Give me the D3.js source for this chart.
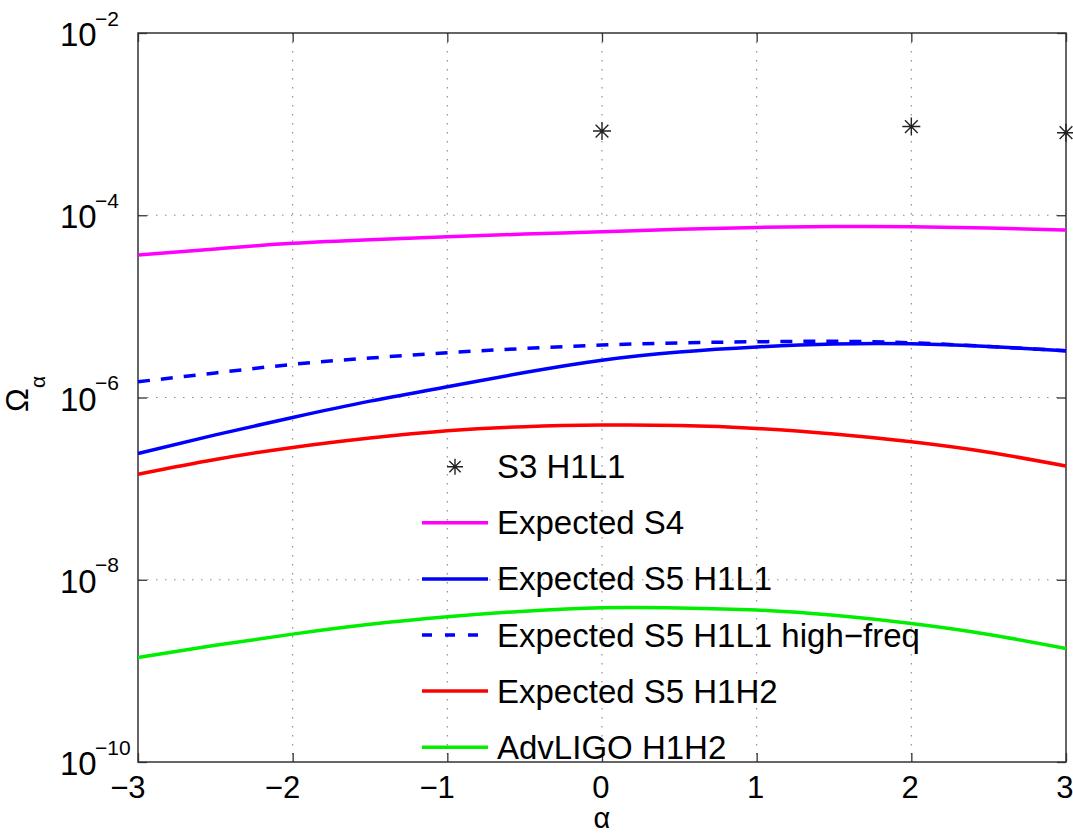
<!DOCTYPE html>
<html>
<head>
<meta charset="utf-8">
<script src="https://cdn.jsdelivr.net/npm/d3@7/dist/d3.min.js"></script>
<style>
  html, body { margin: 0; padding: 0; background: #fff; }
  svg { display: block; font-family: "Liberation Sans", Arial, Helvetica, sans-serif; }
</style>
</head>
<body>
<svg id="chart" width="1073" height="833"></svg>
<script>
// ---------------- data ----------------
const alpha = [-3, -2.5, -2, -1.5, -1, -0.5, 0, 0.5, 1, 1.5, 2, 2.5, 3];

const expectedS4 = [3.66e-5, 4.27e-5, 4.92e-5, 5.40e-5, 5.81e-5, 6.21e-5, 6.59e-5, 7.00e-5, 7.36e-5, 7.53e-5, 7.48e-5, 7.24e-5, 6.89e-5];
const expectedS5H1L1 = [2.43e-7, 3.89e-7, 6.04e-7, 9.12e-7, 1.31e-6, 1.88e-6, 2.57e-6, 3.16e-6, 3.59e-6, 3.87e-6, 3.89e-6, 3.63e-6, 3.26e-6];
const expectedS5H1L1HF = [1.49e-6, 1.86e-6, 2.31e-6, 2.71e-6, 3.10e-6, 3.45e-6, 3.76e-6, 3.98e-6, 4.09e-6, 4.14e-6, 3.98e-6, 3.63e-6, 3.26e-6];
const expectedS5H1H2 = [1.44e-7, 2.09e-7, 2.83e-7, 3.59e-7, 4.32e-7, 4.79e-7, 4.98e-7, 4.93e-7, 4.58e-7, 3.98e-7, 3.27e-7, 2.51e-7, 1.77e-7];
const advLIGOH1H2 = [1.40e-9, 1.91e-9, 2.53e-9, 3.24e-9, 3.92e-9, 4.52e-9, 4.92e-9, 4.90e-9, 4.65e-9, 4.07e-9, 3.31e-9, 2.51e-9, 1.76e-9];

const s3Alpha = [0, 2, 3];
const s3Values = [8.4e-4, 9.4e-4, 8.05e-4];

const xTicks = [-3, -2, -1, 0, 1, 2, 3];
const yTicks = [1e-10, 1e-8, 1e-6, 1e-4, 1e-2];
const yTickExponents = ["−10", "−8", "−6", "−4", "−2"];
const xGrid = [-2, -1, 0, 1, 2];
const yGrid = [1e-8, 1e-6, 1e-4];

const legendLabels = ["S3 H1L1", "Expected S4", "Expected S5 H1L1", "Expected S5 H1L1 high−freq", "Expected S5 H1H2", "AdvLIGO H1H2"];

// ---------------- layout ----------------
const L = 138, R = 1066, T = 33, B = 762;
const svg = d3.select("#chart");
const x = d3.scaleLinear().domain([-3, 3]).range([L, R]);
const y = d3.scaleLog().domain([1e-10, 1e-2]).range([B, T]);

const FONT = 31;

// grid
const grid = svg.append("g").attr("stroke", "#8a8a8a").attr("stroke-width", 1.1).attr("stroke-dasharray", "1.5,7.5");
grid.selectAll("line.gx").data(xGrid).join("line")
  .attr("x1", d => x(d)).attr("x2", d => x(d)).attr("y1", T).attr("y2", B);
grid.selectAll("line.gy").data(yGrid).join("line")
  .attr("y1", d => y(d)).attr("y2", d => y(d)).attr("x1", L).attr("x2", R);

// axes (inward ticks)
const tickLen = 9;
const axStyle = g => {
  g.select(".domain").remove();
  g.selectAll(".tick line").attr("stroke", "#333").attr("stroke-width", 1.3);
};
const xb = svg.append("g").attr("transform", `translate(0,${B})`)
  .call(d3.axisBottom(x).tickValues(xTicks).tickSizeInner(-tickLen).tickSizeOuter(0)
    .tickFormat(d => d < 0 ? "−" + Math.abs(d) : String(d)))
  .call(axStyle);
xb.selectAll(".tick text")
  .attr("font-size", FONT).attr("fill", "#000")
  .attr("font-family", "Liberation Sans, Arial, sans-serif")
  .attr("text-anchor", "end").attr("x", 7).attr("dy", null).attr("y", 36);

svg.append("g").attr("transform", `translate(0,${T})`)
  .call(d3.axisTop(x).tickValues(xTicks).tickSizeInner(-tickLen).tickSizeOuter(0).tickFormat(""))
  .call(axStyle);
const yl = svg.append("g").attr("transform", `translate(${L},0)`)
  .call(d3.axisLeft(y).tickValues(yTicks).tickSizeInner(-tickLen).tickSizeOuter(0).tickFormat(""))
  .call(axStyle);
svg.append("g").attr("transform", `translate(${R},0)`)
  .call(d3.axisRight(y).tickValues(yTicks).tickSizeInner(-tickLen).tickSizeOuter(0).tickFormat(""))
  .call(axStyle);

// y tick labels 10^n
yl.selectAll(".tick").each(function(d, i) {
  const t = d3.select(this).append("text").attr("fill", "#000").attr("text-anchor", "start");
  t.append("tspan").attr("x", -78).attr("y", 12.5).attr("font-size", 33).text("10");
  t.append("tspan").attr("x", -43).attr("y", -8).attr("font-size", 21).text(yTickExponents[i]);
});

// box
svg.append("rect").attr("x", L).attr("y", T).attr("width", R - L).attr("height", B - T)
  .attr("fill", "none").attr("stroke", "#333").attr("stroke-width", 1.5);

// lines
const line = d3.line().x((d, i) => x(alpha[i])).y(d => y(d)).curve(d3.curveNatural);
const series = [
  {v: expectedS4, c: "#ff00ff", dash: null},
  {v: expectedS5H1L1, c: "#0000ff", dash: null},
  {v: expectedS5H1L1HF, c: "#0000ff", dash: "12,11"},
  {v: expectedS5H1H2, c: "#ff0000", dash: null},
  {v: advLIGOH1H2, c: "#00ee00", dash: null}
];
svg.append("g").selectAll("path").data(series).join("path")
  .attr("d", d => line(d.v)).attr("fill", "none")
  .attr("stroke", d => d.c).attr("stroke-width", 3.5)
  .attr("stroke-dasharray", d => d.dash);

// star markers
function star(g, cx, cy, r) {
  const a = r * Math.SQRT1_2;
  g.append("path")
    .attr("d", `M${cx - r},${cy}H${cx + r}M${cx},${cy - r}V${cy + r}M${cx - a},${cy - a}L${cx + a},${cy + a}M${cx - a},${cy + a}L${cx + a},${cy - a}`)
    .attr("stroke", "#222").attr("stroke-width", 1.4).attr("fill", "none");
}
const starG = svg.append("g");
s3Alpha.forEach((a, i) => star(starG, x(a), y(s3Values[i]), 9));

// legend
const lgX0 = 422, lgX1 = 488, lgTx = 497, lgY0 = 466.7, lgDy = 56.1;
const lg = svg.append("g");
const legendStyles = [null].concat(series);
legendLabels.forEach((lab, i) => {
  const yy = lgY0 + i * lgDy;
  if (i === 0) {
    star(lg, (lgX0 + lgX1) / 2, yy, 8);
  } else {
    const s = legendStyles[i];
    lg.append("line").attr("x1", lgX0).attr("x2", lgX1).attr("y1", yy).attr("y2", yy)
      .attr("stroke", s.c).attr("stroke-width", 3.5).attr("stroke-dasharray", s.dash ? "10,13" : null);
  }
  lg.append("text").attr("x", lgTx).attr("y", yy + 11.5).attr("font-size", 33).attr("fill", "#000").text(lab);
});

// axis labels
svg.append("text").attr("x", x(0)).attr("y", 828).attr("text-anchor", "middle")
  .attr("font-size", 29).attr("fill", "#000").text("α");
const ylab = svg.append("text").attr("transform", "translate(28,412) rotate(-90)")
  .attr("text-anchor", "start").attr("fill", "#000");
ylab.append("tspan").attr("font-size", 32).text("Ω");
ylab.append("tspan").attr("font-size", 21).attr("dy", 17).text("α");
</script>
</body>
</html>
